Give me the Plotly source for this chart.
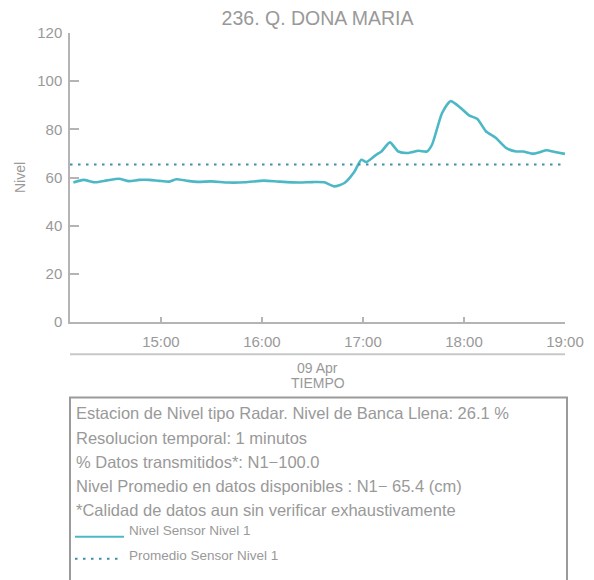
import plotly.graph_objects as go

# ── Data ────────────────────────────────────────────────────────────────────
DAY = "2024-04-09"
MINUTES = [8, 14, 21, 28, 35, 41, 47, 53, 59, 65, 69, 76, 82, 90, 100, 110, 121,
           130, 142, 150, 157, 163, 169, 175, 179, 182, 188, 191, 196, 201, 207,
           213, 218, 221, 227, 232, 238, 243, 248, 253, 259, 265, 271, 275, 281,
           285, 289, 294, 300]
NIVEL = [57.9, 59.0, 58.0, 58.8, 59.5, 58.5, 59.0, 59.0, 58.6, 58.3, 59.3, 58.6,
         58.2, 58.4, 57.9, 58.0, 58.7, 58.3, 57.9, 58.1, 58.0, 56.3, 57.7, 62.5,
         67.4, 66.4, 69.5, 70.8, 74.6, 70.8, 70.2, 71.1, 70.8, 73.6, 86.8, 91.7,
         88.9, 85.8, 84.3, 79.2, 76.4, 72.3, 70.8, 70.8, 69.9, 70.5, 71.3, 70.6, 69.8]
PROMEDIO = 65.4

TIMES = [f"{DAY} {14 + m // 60:02d}:{m % 60:02d}" for m in MINUTES]
TICK_VALS = [f"{DAY} {h}:00" for h in (15, 16, 17, 18, 19)]
TICK_TEXT = ["15:00", "16:00", "17:00", "18:00", "19:00"]

INFO_LINES = [
    "Estacion de Nivel tipo Radar. Nivel de Banca Llena: 26.1 %",
    "Resolucion temporal: 1 minutos",
    "% Datos transmitidos*: N1\u2212100.0",
    "Nivel Promedio en datos disponibles : N1\u2212 65.4 (cm)",
    "*Calidad de datos aun sin verificar exhaustivamente",
]
LEGEND_NAMES = ["Nivel Sensor Nivel 1", "Promedio Sensor Nivel 1"]

TEAL = "#4cb8c6"
DOT = "#3f8fa8"
AXIS = "#b4b4b4"
TXT = "#999999"
FONT = "Liberation Sans"
DOTS = "2.5px,5.5px"

# page has an 8px body margin, so work in page pixels and shift by OFF
OFF = 8
W, H = 594 - OFF, 580 - OFF
PLOT_L, PLOT_R, PLOT_T, PLOT_B = 70, 565, 33.3, 321.7   # page pixels
L, T = PLOT_L - OFF, PLOT_T - OFF
R, B = W - (PLOT_R - OFF), H - (PLOT_B - OFF)
PH, PW = H - T - B, W - L - R


def py(y):
    """page pixel y -> paper y"""
    return (PLOT_B - y) / PH


def px(x):
    return (x - PLOT_L) / PW


fig = go.Figure()
fig.add_trace(go.Scatter(x=TIMES, y=NIVEL, mode="lines",
                         line=dict(color=TEAL, width=2.6, shape="spline", smoothing=0.6),
                         name=LEGEND_NAMES[0], showlegend=False))
fig.add_trace(go.Scatter(x=[f"{DAY} 14:06", f"{DAY} 19:00"], y=[PROMEDIO, PROMEDIO],
                         mode="lines", line=dict(color=DOT, width=2, dash=DOTS),
                         name=LEGEND_NAMES[1], showlegend=False))

fig.update_xaxes(
    type="date", range=[f"{DAY} 14:06", f"{DAY} 19:00"],
    tickvals=TICK_VALS, ticktext=TICK_TEXT,
    ticks="inside", ticklen=5, tickcolor=AXIS, tickwidth=1.5,
    showline=True, linecolor=AXIS, linewidth=1.5, showgrid=False, zeroline=False,
    tickfont=dict(size=15, color=TXT), ticklabelstandoff=5, automargin=False,
)
fig.update_yaxes(
    range=[0, 120], tickvals=[0, 20, 40, 60, 80, 100, 120],
    ticks="inside", ticklen=9, tickcolor=AXIS, tickwidth=1.5,
    showline=True, linecolor=AXIS, linewidth=1.5, showgrid=False, zeroline=False,
    tickfont=dict(size=15, color=TXT), ticklabelstandoff=3, automargin=False,
    title=dict(text="Nivel", font=dict(size=14, color=TXT), standoff=8),
)

# separator line under tick labels, date and axis title
fig.add_shape(type="line", xref="paper", yref="paper", x0=0, x1=1, y0=py(354), y1=py(354),
              line=dict(color="#c8c8c8", width=2))
fig.add_annotation(xref="paper", yref="paper", x=0.5, y=py(368), text="09 Apr",
                   showarrow=False, font=dict(size=14, color=TXT), yanchor="middle")
fig.add_annotation(xref="paper", yref="paper", x=0.5, y=py(383), text="TIEMPO",
                   showarrow=False, font=dict(size=14, color=TXT), yanchor="middle")

# info box
fig.add_shape(type="rect", xref="paper", yref="paper", x0=0, x1=px(567), y0=py(397), y1=py(600),
              line=dict(color="#9a9a9a", width=2))
for i, line in enumerate(INFO_LINES):
    fig.add_annotation(xref="paper", yref="paper", x=px(74), y=py(413 + 24 * i), text=line,
                       showarrow=False, xanchor="left", yanchor="middle",
                       font=dict(size=16.5, color=TXT))

# legend samples
fig.add_shape(type="line", xref="paper", yref="paper", x0=px(75), x1=px(124),
              y0=py(536), y1=py(536), line=dict(color=TEAL, width=2))
fig.add_shape(type="line", xref="paper", yref="paper", x0=px(75), x1=px(122),
              y0=py(558), y1=py(558), line=dict(color=DOT, width=2, dash=DOTS))
for i, name in enumerate(LEGEND_NAMES):
    fig.add_annotation(xref="paper", yref="paper", x=px(127), y=py(530 + 25 * i), text=name,
                       showarrow=False, xanchor="left", yanchor="middle",
                       font=dict(size=13.5, color=TXT))

fig.update_layout(
    width=W, height=H,
    margin=dict(l=L, r=R, t=T, b=B, autoexpand=False),
    paper_bgcolor="white", plot_bgcolor="white",
    font=dict(family=FONT, color=TXT),
    title=dict(text="236. Q. DONA MARIA", x=0.5, xref="paper",
               y=1 - (18 - OFF) / H, yanchor="middle",
               font=dict(size=19.5, color=TXT)),
    showlegend=False,
)

fig.write_html("out.html")
